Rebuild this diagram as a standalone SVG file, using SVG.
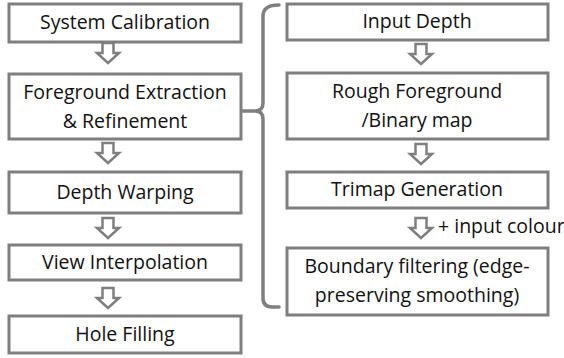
<svg xmlns="http://www.w3.org/2000/svg" width="564" height="358" viewBox="0 0 564 358">
<defs>
<style>
.box{fill:#fff;stroke:#7f7f7f;stroke-width:3}
.t{font-family:"Open Sans","Liberation Sans",sans-serif;font-size:19.5px;fill:#111;text-anchor:middle}
.arr{fill:#fff;stroke:#7f7f7f;stroke-width:2.5;stroke-linejoin:miter}
.br{fill:none;stroke:#7f7f7f;stroke-width:3.5;stroke-linecap:round}
</style>
<path id="dn" d="M-5.5,0 H5.5 V10 H11 L0,20 L-11,10 H-5.5 Z"/>
</defs>
<rect width="564" height="358" fill="#fff"/>
<g id="connectors">
<use href="#dn" class="arr" x="108" y="43"/>
<use href="#dn" class="arr" x="108" y="143"/>
<use href="#dn" class="arr" x="108" y="218"/>
<use href="#dn" class="arr" x="108" y="288"/>
<use href="#dn" class="arr" x="421" y="44"/>
<use href="#dn" class="arr" x="421" y="144"/>
<use href="#dn" class="arr" x="421" y="218"/>
<path class="br" d="M279,5 Q263,5 263,16 V103 Q263,111 255,111 H243 M255,111 Q263,111 263,119 V298 Q263,307 272,307 H279"/>
<text class="t" x="438" y="233" style="text-anchor:start">+ input colour</text>
</g>
<g id="n1"><rect class="box" x="9" y="4" width="232" height="38"/><text class="t" x="125" y="29">System Calibration</text></g>
<g id="n2"><rect class="box" x="9" y="74" width="232" height="65"/><text class="t" x="125" y="99">Foreground Extraction</text><text class="t" x="125" y="128">&amp; Refinement</text></g>
<g id="n3"><rect class="box" x="9" y="172" width="232" height="41"/><text class="t" x="125" y="199">Depth Warping</text></g>
<g id="n4"><rect class="box" x="9" y="245" width="232" height="35"/><text class="t" x="125" y="269">View Interpolation</text></g>
<g id="n5"><rect class="box" x="9" y="316" width="232" height="37"/><text class="t" x="125" y="341">Hole Filling</text></g>
<g id="r1"><rect class="box" x="287" y="4" width="261" height="36"/><text class="t" x="417" y="28">Input Depth</text></g>
<g id="r2"><rect class="box" x="287" y="73" width="261" height="66"/><text class="t" x="417" y="98">Rough Foreground</text><text class="t" x="417" y="127">/Binary map</text></g>
<g id="r3"><rect class="box" x="287" y="172" width="261" height="36"/><text class="t" x="417" y="196">Trimap Generation</text></g>
<g id="r4"><rect class="box" x="287" y="248" width="261" height="67"/><text class="t" x="417" y="273">Boundary filtering (edge-</text><text class="t" x="417" y="302">preserving smoothing)</text></g>
</svg>
